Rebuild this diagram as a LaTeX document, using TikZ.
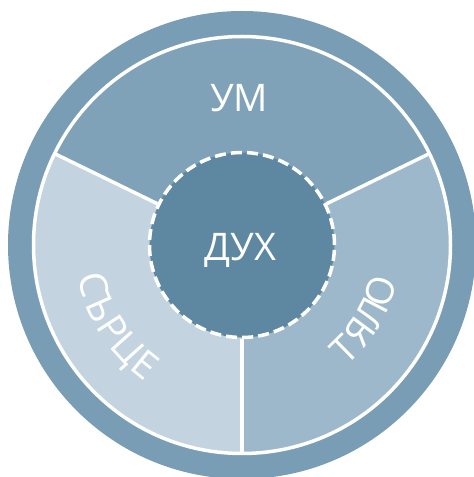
\documentclass[tikz,border=0pt]{standalone}
\usepackage{fontspec}
\setmainfont{Open Sans}
\definecolor{ringc}{RGB}{120,157,181}
\definecolor{topc}{RGB}{127,162,185}
\definecolor{rightc}{RGB}{157,184,203}
\definecolor{leftc}{RGB}{195,212,224}
\definecolor{innerc}{RGB}{94,135,161}
\newcommand\lblfont{\fontsize{38}{40}\selectfont}
\tikzset{
  divider/.style={draw=white, line width=3.5pt},
  lbl/.style={text=white, font=\lblfont, inner sep=0pt, anchor=base},
  letter/.style={text=white, font=\lblfont, inner sep=0pt, anchor=center,
    text height=27pt, text depth=0pt},
  core/.style={circle, fill=innerc, draw=white, line width=3.5pt,
    dash pattern=on 11.1pt off 5.05pt, minimum size=185pt, inner sep=0pt},
}
\begin{document}
\begin{tikzpicture}[x=1pt,y=1pt]
\useasboundingbox (0,0) rectangle (474,477);
\coordinate (C) at (242,232);
\begin{scope}
  \clip (0,0) rectangle (474,477);
  \fill[ringc] (C) circle (234);
\end{scope}
\fill[topc] (C) -- ([shift={(26:208.5)}]C) arc (26:154:208.5) -- cycle;
\fill[leftc] (C) -- ([shift={(154:208.5)}]C) arc (154:270:208.5) -- cycle;
\fill[rightc] (C) -- ([shift={(270:208.5)}]C) arc (270:386:208.5) -- cycle;
\draw[white, line width=3.5pt] (C) circle (208.5);
\node[core] (spirit) at (C) {};
\coordinate (o1) at ([shift={(26:208.5)}]C);
\coordinate (o2) at ([shift={(154:208.5)}]C);
\coordinate (o3) at ([shift={(270:208.5)}]C);
\draw[divider] (spirit.26) -- (o1);
\draw[divider] (spirit.154) -- (o2);
\draw[divider] (spirit.270) -- (o3);
\node[lbl] (mind) at (239,365) {УМ};
\node[lbl] (spiritlbl) at (240.5,216) {ДУХ};
\foreach \ch [count=\i] in {С,Ъ,Р,Ц,Е} {
  \pgfmathsetmacro\ang{195+9*(\i-1)}
  \node[letter, rotate=\ang+90] (heart\i) at ([shift={(\ang:154)}]C) {\ch};
}
\foreach \ch [count=\i] in {Т,Я,Л,О} {
  \pgfmathsetmacro\ang{314.5+9*(\i-1)}
  \node[letter, rotate=\ang+90] (body\i) at ([shift={(\ang:146)}]C) {\ch};
}
\end{tikzpicture}
\end{document}
